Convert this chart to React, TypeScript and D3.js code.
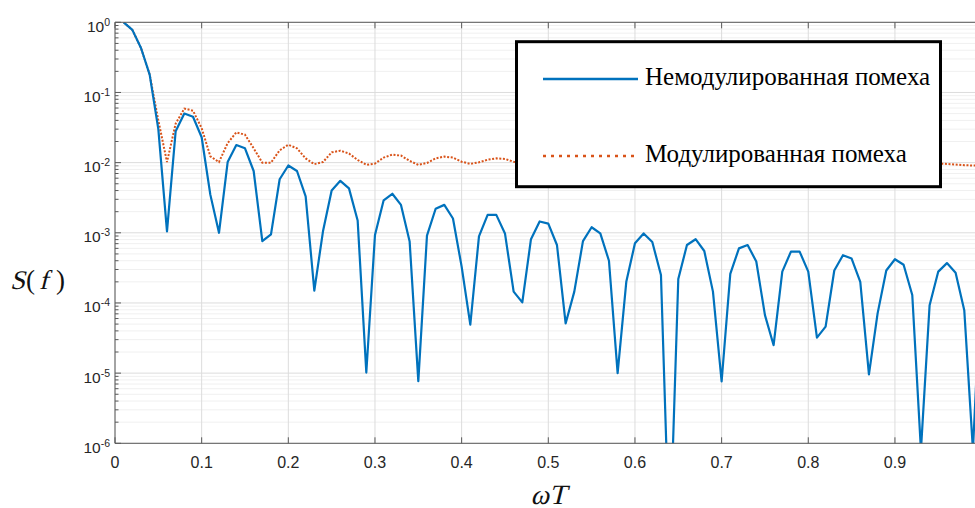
import React from "react";
import * as d3 from "d3";

const omegaT = d3.range(1, 101).map((i) => i / 100);

const unmodulated = [
  1.0, 0.78, 0.43, 0.18, 0.03, 1.05e-3, 0.028, 0.05, 0.045, 0.023,
  3.5e-3, 1.0e-3, 0.0102, 0.0178, 0.016, 7.6e-3, 7.6e-4, 9.5e-4, 5.8e-3, 9.1e-3,
  7.6e-3, 3.3e-3, 1.5e-4, 1.05e-3, 4.0e-3, 5.5e-3, 4.3e-3, 1.5e-3, 1.02e-5, 9.3e-4,
  2.9e-3, 3.6e-3, 2.5e-3, 7.5e-4, 7.7e-6, 9.1e-4, 2.2e-3, 2.5e-3, 1.6e-3, 3.3e-4,
  4.9e-5, 8.9e-4, 1.8e-3, 1.8e-3, 9.8e-4, 1.45e-4, 1.02e-4, 8.1e-4, 1.45e-3, 1.35e-3,
  6.7e-4, 5.1e-5, 1.45e-4, 7.6e-4, 1.2e-3, 9.8e-4, 4.0e-4, 1.0e-5, 2.0e-4, 7.1e-4,
  9.8e-4, 7.4e-4, 2.5e-4, 3e-8, 2.2e-4, 6.7e-4, 8.1e-4, 5.5e-4, 1.45e-4, 7.6e-6,
  2.6e-4, 6.0e-4, 6.7e-4, 3.9e-4, 6.7e-5, 2.5e-5, 2.8e-4, 5.4e-4, 5.4e-4, 2.8e-4,
  3.2e-5, 4.6e-5, 2.9e-4, 4.8e-4, 4.3e-4, 2.0e-4, 9.6e-6, 7.1e-5, 2.9e-4, 4.2e-4,
  3.5e-4, 1.3e-4, 8e-7, 9.3e-5, 2.8e-4, 3.7e-4, 2.7e-4, 7.9e-5, 8e-7, 3e-4,
];

const modulated = [
  1.0, 0.78, 0.43, 0.18, 0.04, 0.0102, 0.036, 0.059, 0.055, 0.031,
  0.0123, 0.0102, 0.019, 0.027, 0.025, 0.016, 0.01, 0.01, 0.015, 0.018,
  0.016, 0.0115, 0.0095, 0.0102, 0.014, 0.0148, 0.0135, 0.0109, 0.0093, 0.0097,
  0.0118, 0.013, 0.0126, 0.0106, 0.0093, 0.0099, 0.0115, 0.0122, 0.0118, 0.0103,
  0.0096, 0.0101, 0.011, 0.0115, 0.0113, 0.0103, 0.0098, 0.0102, 0.0108, 0.0112,
  0.011, 0.0103, 0.0097, 0.01, 0.0106, 0.011, 0.0107, 0.0101, 0.0096, 0.0099,
  0.0105, 0.0108, 0.0105, 0.0099, 0.0096, 0.0099, 0.0104, 0.0107, 0.0104, 0.0098,
  0.0095, 0.0098, 0.0103, 0.0105, 0.0102, 0.0097, 0.0095, 0.0098, 0.0102, 0.0104,
  0.0101, 0.0097, 0.0094, 0.0097, 0.0101, 0.0103, 0.01, 0.0096, 0.0094, 0.0096,
  0.01, 0.0102, 0.0099, 0.0096, 0.0097, 0.0096, 0.0094, 0.0092, 0.0091, 0.0091,
];

const xTicks = [0, 0.1, 0.2, 0.3, 0.4, 0.5, 0.6, 0.7, 0.8, 0.9, 1.0];
const xTickLabels = ["0", "0.1", "0.2", "0.3", "0.4", "0.5", "0.6", "0.7", "0.8", "0.9"];
const yTickExps = [0, -1, -2, -3, -4, -5, -6];
const legendLabels = ["Немодулированная помеха", "Модулированная помеха"];

const W = 975;
const H = 508;
const L = 115;
const R = 981.6;
const T = 22.3;
const B = 443.3;
const BLUE = "#0072BD";
const ORANGE = "#D95319";
const AX = "#5a5a5a";

export default function App() {
  const x = d3.scaleLinear().domain([0, 1]).range([L, R]);
  const y = d3.scaleLog().domain([1e-6, 1]).range([B, T]);
  const line = d3
    .line<number>()
    .x((_, i) => x(omegaT[i]))
    .y((d) => y(d));

  const minorVals: number[] = [];
  for (let e = -6; e < 0; e++) for (let k = 2; k <= 9; k++) minorVals.push(k * Math.pow(10, e));

  const sans = "'Liberation Sans', Arial, Helvetica, sans-serif";
  const serif = "'Liberation Serif', 'Times New Roman', serif";

  return (
    <svg width={W} height={H} style={{ position: "absolute", left: 0, top: 0, background: "#fff" }}>
      <defs>
        <clipPath id="plotclip">
          <rect x={L} y={T} width={R - L} height={B - T} />
        </clipPath>
      </defs>
      <rect x={0} y={0} width={W} height={H} fill="#fff" />
      {minorVals.map((v, i) => (
        <line key={"mg" + i} x1={L} x2={R} y1={y(v)} y2={y(v)} stroke="#f0f0f0" strokeWidth={1} />
      ))}
      {yTickExps.map((e) => (
        <line key={"yg" + e} x1={L} x2={R} y1={y(Math.pow(10, e))} y2={y(Math.pow(10, e))} stroke="#dcdcdc" strokeWidth={1} />
      ))}
      {xTicks.map((t) => (
        <line key={"xg" + t} x1={x(t)} x2={x(t)} y1={T} y2={B} stroke="#dcdcdc" strokeWidth={1} />
      ))}
      <g clipPath="url(#plotclip)">
        <path d={line(modulated) || ""} fill="none" stroke={ORANGE} strokeWidth={2} strokeDasharray="2 1.6" />
        <path d={line(unmodulated) || ""} fill="none" stroke={BLUE} strokeWidth={2.2} strokeLinejoin="round" />
      </g>
      <line x1={L} x2={R} y1={T} y2={T} stroke={AX} strokeWidth={1} />
      <line x1={L} x2={R} y1={B} y2={B} stroke={AX} strokeWidth={1} />
      <line x1={L} x2={L} y1={T} y2={B} stroke={AX} strokeWidth={1} />
      {xTicks.map((t) => (
        <g key={"xt" + t}>
          <line x1={x(t)} x2={x(t)} y1={B} y2={B - 6} stroke={AX} strokeWidth={1} />
          <line x1={x(t)} x2={x(t)} y1={T} y2={T + 6} stroke={AX} strokeWidth={1} />
        </g>
      ))}
      {xTickLabels.map((lab, i) => (
        <text key={"xl" + i} x={x(xTicks[i])} y={467.5} textAnchor="middle" fontFamily={sans} fontSize={16} fill="#262626">
          {lab}
        </text>
      ))}
      {yTickExps.map((e) => (
        <line key={"yt" + e} x1={L} x2={L + 6} y1={y(Math.pow(10, e))} y2={y(Math.pow(10, e))} stroke={AX} strokeWidth={1} />
      ))}
      {minorVals.map((v, i) => (
        <line key={"ymt" + i} x1={L} x2={L + 3.5} y1={y(v)} y2={y(v)} stroke={AX} strokeWidth={1} />
      ))}
      {yTickExps.map((e) => (
        <text key={"yl" + e} x={110} y={y(Math.pow(10, e)) + 9.5} textAnchor="end" fontFamily={sans} fontSize={15.5} fill="#262626">
          <tspan>10</tspan>
          <tspan dy={-6} fontSize={10.5}>{String(e)}</tspan>
        </text>
      ))}
      {/* y label S(f) */}
      <g fontFamily={serif} fontSize={27} fill="#111">
        <text transform="translate(10,288.5) skewX(-14)" x={0} y={0}>S</text>
        <text x={26} y={288.5}>(</text>
        <text transform="translate(39,288.5) skewX(-14)" x={0} y={0}>f</text>
        <text x={56} y={288.5}>)</text>
      </g>
      {/* x label ωT */}
      <text transform={`translate(${x(0.5)},503.5) skewX(-14)`} x={0} y={0} textAnchor="middle" fontFamily={serif} fontSize={28} fill="#111">
        ωT
      </text>
      {/* legend */}
      <rect x={516.5} y={41.7} width={424} height={145} fill="#fff" stroke="#000" strokeWidth={3} />
      <line x1={543} x2={638} y1={79} y2={79} stroke={BLUE} strokeWidth={2.5} />
      <line x1={543} x2={638} y1={156} y2={156} stroke={ORANGE} strokeWidth={2.5} strokeDasharray="3 5" />
      <text x={645} y={85} fontFamily={serif} fontSize={25} fill="#000">
        {legendLabels[0]}
      </text>
      <text x={645} y={161.7} fontFamily={serif} fontSize={25} fill="#000">
        {legendLabels[1]}
      </text>
    </svg>
  );
}
